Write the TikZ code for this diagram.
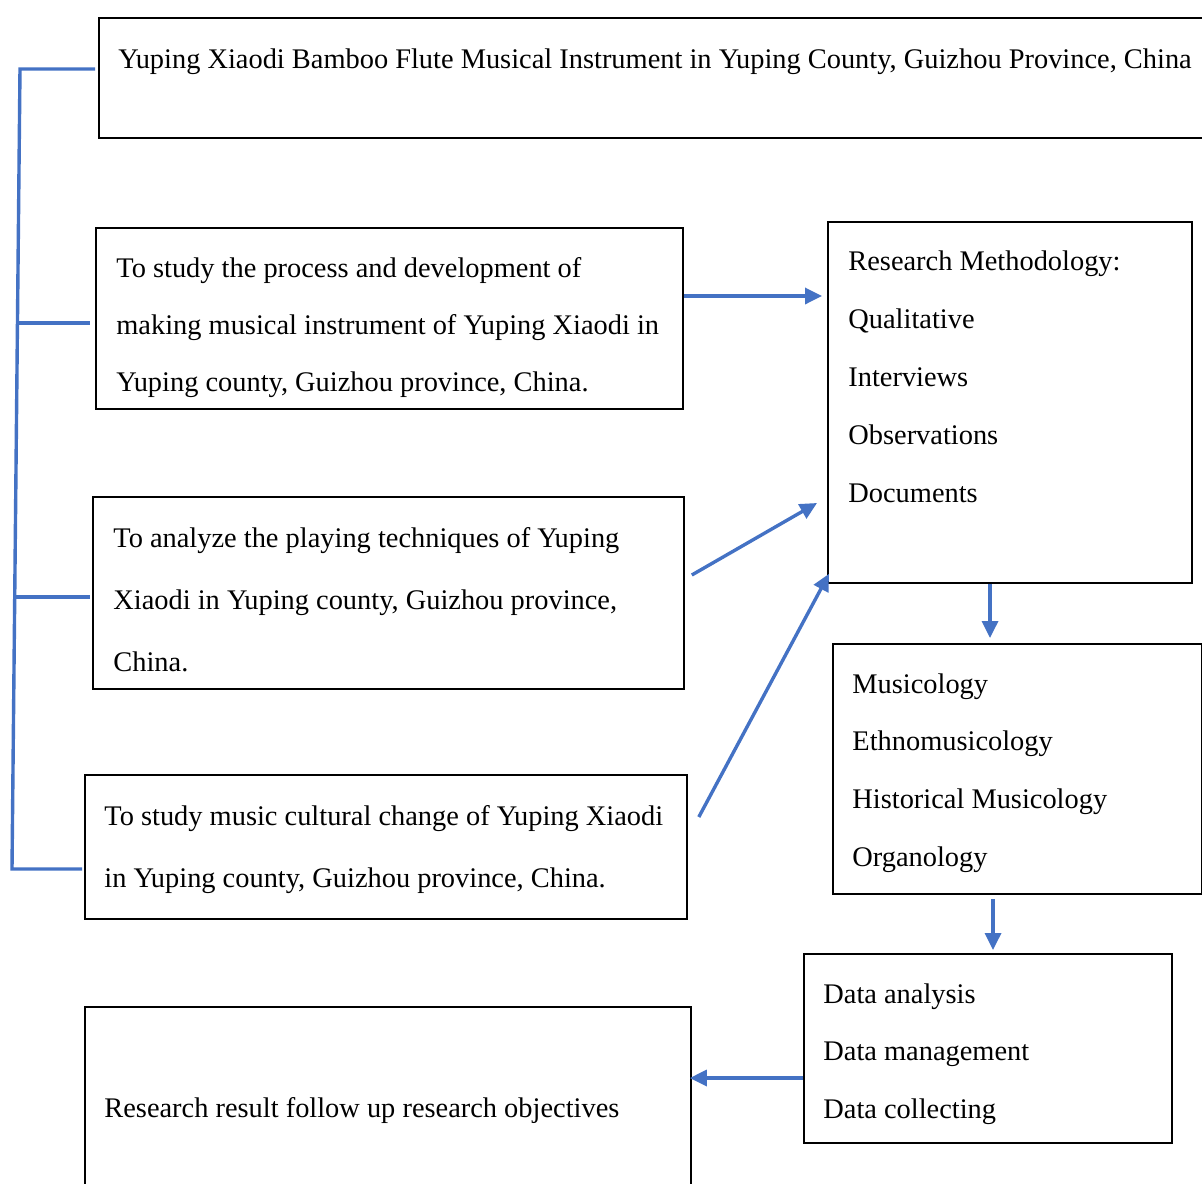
\documentclass[tikz,border=0pt]{standalone}
\usepackage{fontspec}
\setmainfont{Liberation Serif}
\usetikzlibrary{positioning,arrows.meta}
\definecolor{linkblue}{RGB}{68,114,196}

\begin{document}
\begin{tikzpicture}[
    x=0.5pt, y=-0.5pt,
    box/.style={rectangle, draw=black, line width=0.9pt, anchor=north west, inner sep=0pt},
    txt/.style={anchor=base west, inner sep=0pt, align=left, font=\fontsize{14.2}{#1}\selectfont},
    txt/.default=28.75,
    arrow/.style={-{Triangle[length=8.5pt,width=8pt]}, line width=1.7pt, color=linkblue},
    bracket/.style={line width=1.7pt, color=linkblue}
]
\useasboundingbox (0,0) rectangle (1202,1183);

% Boxes
\node[box, minimum width=558.5pt, minimum height=60pt] (top) at (98,17) {};
\node[box, minimum width=293.5pt, minimum height=90.5pt] (obj1) at (95,227) {};
\node[box, minimum width=295.5pt, minimum height=96pt] (obj2) at (92,496) {};
\node[box, minimum width=301pt, minimum height=72pt] (obj3) at (84,774) {};
\node[box, minimum width=303pt, minimum height=100pt] (result) at (84,1006) {};
\node[box, minimum width=182pt, minimum height=180.5pt] (method) at (827,221) {};
\node[box, minimum width=184.5pt, minimum height=125pt] (fields) at (832,643) {};
\node[box, minimum width=184pt, minimum height=94.5pt] (data) at (803,953) {};

% Texts
\node[txt] (toptxt) at (118,68) {Yuping Xiaodi Bamboo Flute Musical Instrument in Yuping County, Guizhou Province, China};
\node[txt=28.5] (obj1txt) at (116,391) {To study the process and development of\\making musical instrument of Yuping Xiaodi in\\Yuping county, Guizhou province, China.};
\node[txt=31] (obj2txt) at (113,671) {To analyze the playing techniques of Yuping\\Xiaodi in Yuping county, Guizhou province,\\China.};
\node[txt=31] (obj3txt) at (104,887) {To study music cultural change of Yuping Xiaodi\\in Yuping county, Guizhou province, China.};
\node[txt] (resulttxt) at (104,1117) {Research result follow up research objectives};
\node[txt=28.9] (methodtxt) at (848,502) {Research Methodology:\\Qualitative\\Interviews\\Observations\\Documents};
\node[txt=28.8] (fieldstxt) at (852,866) {Musicology\\Ethnomusicology\\Historical Musicology\\Organology};
\node[txt=28.75] (datatxt) at (823,1118) {Data analysis\\Data management\\Data collecting};

% Bracket
\coordinate (spine1) at (20,69);
\coordinate (spine2) at (17.5,323);
\coordinate (spine3) at (15.3,597);
\coordinate (spine4) at (12,869);
\draw[bracket] ([xshift=-1.5pt]spine1 -| top.west) -- (spine1) -- (spine4) -- ([xshift=-1pt]spine4 -| obj3.west);
\draw[bracket, shorten >=2.5pt] (spine2) -- (spine2 -| obj1.west);
\draw[bracket, shorten >=1pt] (spine3) -- (spine3 -| obj2.west);

% Arrows
\draw[arrow, shorten >=2.5pt] (obj1.east |- 0,296) -- (method.west |- 0,296);
\draw[arrow] ([xshift=3.5pt]obj2.east |- 0,575) -- ([xshift=-5pt]method.west |- 0,503);
\draw[arrow] ([xshift=5.5pt]obj3.east |- 0,817) -- ([xshift=1pt,yshift=5pt]method.south west);
\draw[arrow, shorten >=2.5pt] (method.south -| 990,0) -- (fields.north -| 990,0);
\draw[arrow, shorten <=2pt, shorten >=1.5pt] (fields.south -| 993,0) -- (data.north -| 993,0);
\draw[arrow, shorten >=-1pt] (data.west |- 0,1078) -- (result.east |- 0,1078);
\end{tikzpicture}
\end{document}
